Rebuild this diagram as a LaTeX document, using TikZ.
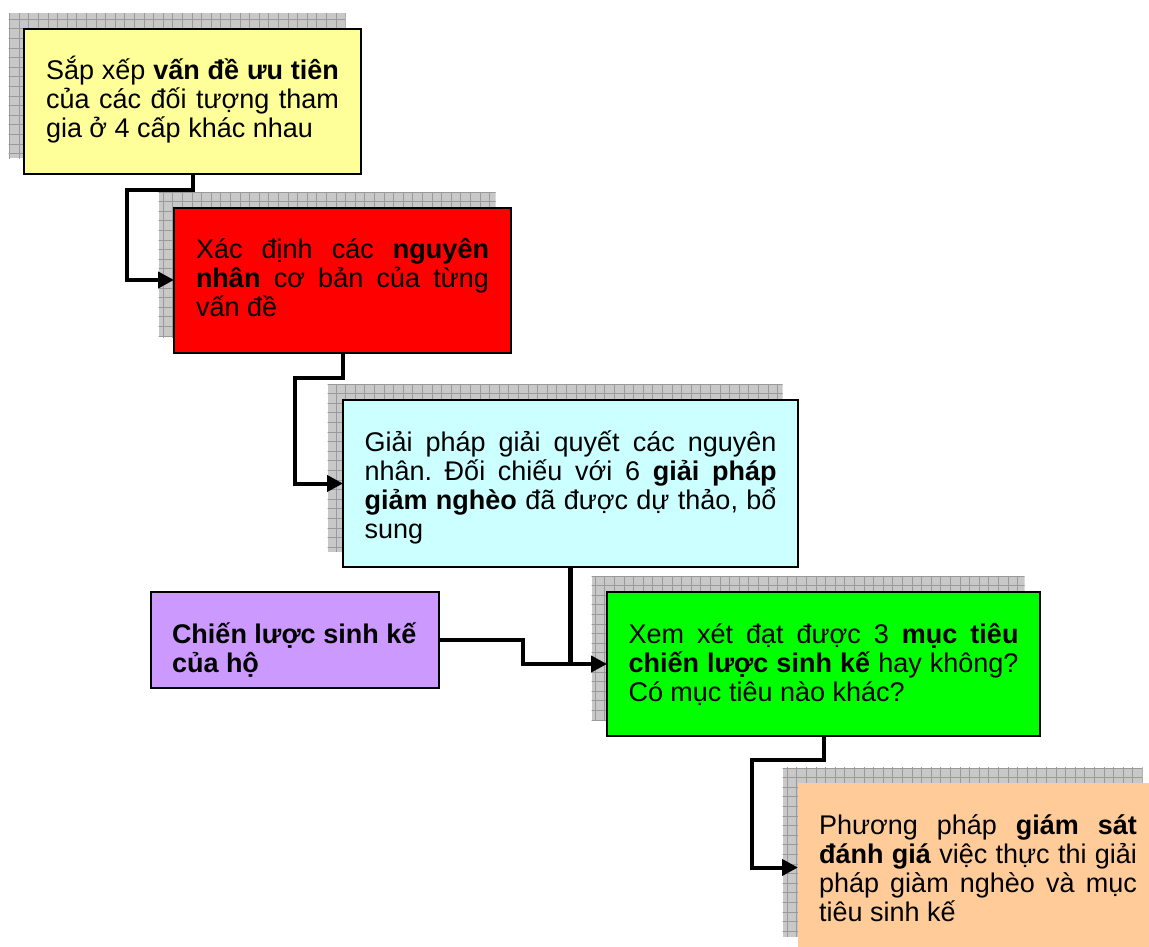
\documentclass[tikz,border=0pt]{standalone}
\usepackage{fontspec}
\setmainfont{Liberation Sans}
\usetikzlibrary{arrows.meta,calc}
\definecolor{cyel}{HTML}{FFFF99}
\definecolor{cred}{HTML}{FF0000}
\definecolor{ccyan}{HTML}{CCFFFF}
\definecolor{cgreen}{HTML}{00FF00}
\definecolor{corange}{HTML}{FFCC99}
\definecolor{cpurple}{HTML}{CC99FF}
\definecolor{shfill}{HTML}{C8C8C8}
\definecolor{shline}{HTML}{9A9A9A}
\pgfdeclarelayer{bg}
\pgfsetlayers{bg,main}
\frenchspacing
\newcommand{\JL}[1]{\makebox[\linewidth][s]{#1}}
\newcommand{\FL}{\rule{0pt}{51pt}}
\newcommand{\boxtxt}[3]{\parbox[c][#1][t]{#2}{\frenchspacing\fontsize{27pt}{29pt}\selectfont\lineskiplimit=-100pt\lineskip=0pt #3}}
\newcommand{\shadowof}[1]{%
  \begin{scope}
    \clip ([shift={(-15.5,-15.5)}]#1.north west) rectangle ([shift={(-15.5,-15.5)}]#1.south east);
    \fill[shfill] ([shift={(-15.5,-15.5)}]#1.north west) rectangle ([shift={(-15.5,-15.5)}]#1.south east);
    \draw[shadowgrid] ([shift={(-30,-30)}]#1.north west) grid (#1.south east);
  \end{scope}}
\tikzset{
  stepbox/.style={rectangle, draw=black, line width=2pt, inner sep=0pt, outer sep=0pt, anchor=north west},
  conn/.style={line width=4pt, black},
  arr/.style={conn, -{Triangle[length=16pt,width=16pt]}},
  shadowgrid/.style={draw=shline, line width=0.9pt, step=9.6pt},
}
\begin{document}
\begin{tikzpicture}[x=1pt,y=-1pt]
\useasboundingbox (0,0) rectangle (1149,947);

\node[stepbox, fill=cyel, minimum width=337pt, minimum height=145pt] (b1) at (24,29)
  {\boxtxt{145pt}{293pt}{\FL\JL{Sắp xếp \textbf{vấn đề ưu tiên}}\\ \JL{của các đối tượng tham}\\ gia ở 4 cấp khác nhau}};
\node[stepbox, fill=cred, minimum width=337pt, minimum height=145pt] (b2) at (174,207.5)
  {\boxtxt{145pt}{293pt}{\FL\JL{Xác định các \textbf{nguyên}}\\ \JL{\textbf{nhân} cơ bản của từng}\\ vấn đề}};
\node[stepbox, fill=ccyan, minimum width=455pt, minimum height=167pt] (b3) at (343,400)
  {\boxtxt{167pt}{412pt}{\FL\JL{Giải pháp giải quyết các nguyên}\\ \JL{nhân. Đối chiếu với 6 \textbf{giải pháp}}\\ \JL{\textbf{giảm nghèo} đã được dự thảo, bổ}\\ sung}};
\node[stepbox, fill=cgreen, minimum width=433pt, minimum height=144pt] (b4) at (607,592)
  {\boxtxt{144pt}{390pt}{\FL\JL{Xem xét đạt được 3 \textbf{mục tiêu}}\\ \JL{\textbf{chiến lược sinh kế} hay không?}\\ Có mục tiêu nào khác?}};
\node[stepbox, draw=none, fill=corange, minimum width=360pt, minimum height=169pt] (b5) at (798,783)
  {\boxtxt{169pt}{318pt}{\FL\JL{Phương pháp \textbf{giám sát}}\\ \JL{\textbf{đánh giá} việc thực thi giải}\\ \JL{pháp giàm nghèo và mục}\\ tiêu sinh kế}};
\node[stepbox, fill=cpurple, minimum width=288pt, minimum height=96pt] (p) at (151,592)
  {\boxtxt{96pt}{246pt}{\FL\textbf{Chiến lược sinh kế}\\ \textbf{của hộ}}};

\begin{pgfonlayer}{bg}
  \shadowof{b1}
  \shadowof{b2}
  \shadowof{b3}
  \shadowof{b4}
  \shadowof{b5}
\end{pgfonlayer}

\draw[arr] (b1.south) -- ++(0,16) -| ($(b2.west)+(-47,0)$) -- (b2.west);
\draw[arr] (b2.south) -- ++(0,25) -| ($(b3.west)+(-48,0)$) -- (b3.west);
\draw[conn] (p.east) -- ++(84,0) |- (b3.south |- b4.west);
\draw[arr, line width=4.5pt] (b3.south) |- (b4.west);
\draw[arr] (b4.south) -- ++(0,24) -| ($(b5.west)+(-46,0)$) -- (b5.west);
\end{tikzpicture}
\end{document}
